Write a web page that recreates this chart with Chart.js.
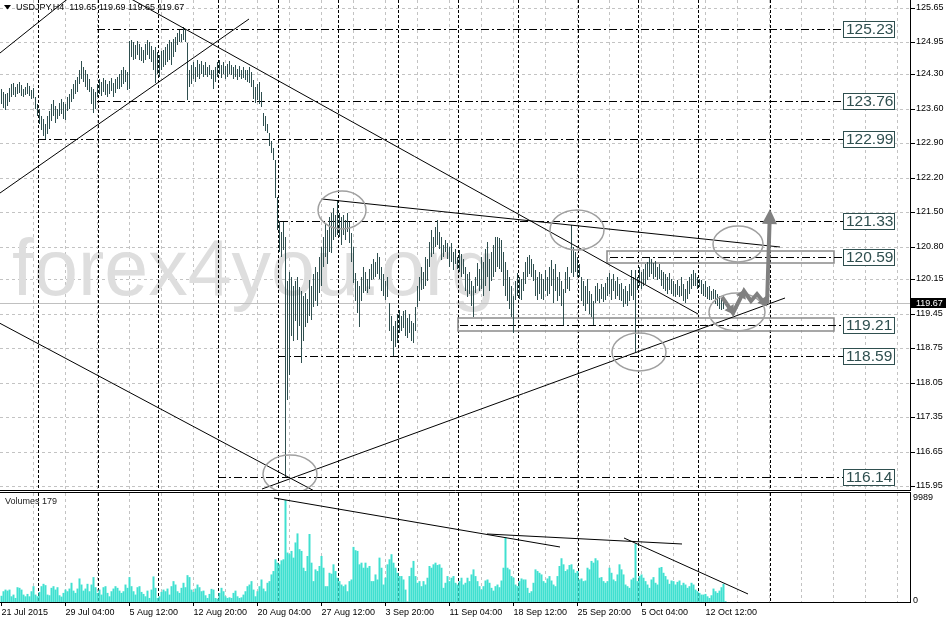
<!DOCTYPE html>
<html>
<head>
<meta charset="utf-8">
<title>USDJPY H4</title>
<script src="https://cdn.jsdelivr.net/npm/chart.js@4.4.1/dist/chart.umd.min.js"></script>
<style>
  html, body { margin:0; padding:0; background:#ffffff; }
  body { width:946px; height:621px; position:relative; overflow:hidden; }
  #priceCanvas { position:absolute; left:0; top:0; }
  #volumeCanvas { position:absolute; left:0; top:492px; }
</style>
</head>
<body>
<canvas id="priceCanvas" width="946" height="492"></canvas>
<canvas id="volumeCanvas" width="946" height="129"></canvas>
<script>
// ---------------- DATA ----------------
const symbol = 'USDJPY';
const timeframe = 'H4';
const quote = [119.65, 119.69, 119.65, 119.67]; // O H L C of last bar
const watermarkText = 'forex4you.org';

const xTickLabels = ['21 Jul 2015','29 Jul 04:00','5 Aug 12:00','12 Aug 20:00','20 Aug 04:00','27 Aug 12:00',
  '3 Sep 20:00','11 Sep 04:00','18 Sep 12:00','25 Sep 20:00','5 Oct 04:00','12 Oct 12:00'];
const priceTickLabels = ['125.65','124.95','124.30','123.60','122.90','122.20','121.50','120.80',
  '120.15','119.45','118.75','118.05','117.35','116.65','115.95'];
const volumeTickLabels = ['0','9989'];

const highs = [
124.00,123.95,123.90,123.92,124.02,124.10,124.12,124.05,124.10,124.14,
124.08,124.00,124.05,124.12,124.06,123.98,124.02,123.85,123.70,123.60,
123.45,123.40,123.30,123.45,123.55,123.70,123.78,123.65,123.60,123.72,
123.80,123.75,123.70,123.84,123.90,124.00,124.10,124.19,124.25,124.40,
124.57,124.45,124.38,124.30,124.20,124.05,124.00,123.95,124.10,124.20,
124.15,124.22,124.18,124.10,124.16,124.23,124.12,124.20,124.25,124.30,
124.38,124.45,124.40,124.35,124.98,125.00,124.95,124.90,124.98,124.92,
124.85,124.80,124.92,125.00,124.95,124.88,124.80,124.86,124.75,124.70,
124.78,124.80,124.85,124.92,125.00,124.95,125.02,125.05,125.15,125.20,
125.12,125.27,125.22,124.94,124.40,124.50,124.55,124.45,124.60,124.52,
124.58,124.50,124.55,124.45,124.50,124.40,124.38,124.45,124.55,124.59,
124.50,124.55,124.48,124.52,124.58,124.50,124.45,124.49,124.42,124.48,
124.40,124.45,124.38,124.40,124.45,124.35,124.19,124.05,124.10,124.15,
123.95,123.52,123.45,123.30,123.11,122.95,122.80,122.57,121.82,121.33,
121.10,121.31,121.00,120.10,120.30,120.20,120.00,120.10,120.19,119.99,
119.90,119.80,119.87,119.75,120.13,120.00,120.25,120.39,120.30,120.60,
120.80,121.00,121.28,121.15,121.40,121.49,121.60,121.45,121.75,121.49,
121.40,121.45,121.35,121.49,121.30,121.08,120.80,120.27,120.10,120.00,
120.20,120.39,120.30,120.15,120.35,120.45,120.55,120.50,120.68,120.60,
120.39,120.25,120.10,120.20,119.66,119.40,119.20,119.30,119.45,119.52,
119.40,119.50,119.52,119.35,119.45,119.30,119.25,119.58,120.00,120.19,
120.40,120.30,120.60,120.55,120.90,121.14,121.00,121.20,121.35,121.10,
121.00,120.85,120.95,120.88,120.80,120.88,120.70,120.75,120.60,120.74,
120.65,120.55,120.39,120.25,120.30,120.10,120.00,120.20,120.47,120.35,
120.60,120.50,120.75,120.90,120.55,120.70,120.85,121.00,121.00,120.98,
120.95,120.70,120.50,120.33,120.20,120.00,119.80,120.10,120.27,120.20,
120.15,120.30,120.50,120.60,120.64,120.55,120.45,120.33,120.20,120.30,
120.25,120.15,120.33,120.20,120.40,120.54,120.35,120.45,120.20,120.30,
120.10,119.95,120.30,120.39,120.20,121.24,120.80,120.70,120.60,120.45,
120.19,120.10,120.00,120.15,119.90,119.85,119.70,120.00,120.07,119.95,
120.05,119.98,120.07,120.20,120.27,120.15,120.25,120.10,120.20,120.05,
120.07,119.95,120.00,119.90,120.05,120.33,120.20,120.33,120.20,120.39,
120.30,120.35,120.45,120.50,120.58,120.55,120.48,120.52,120.40,120.45,
120.33,120.30,120.25,120.20,120.28,120.15,120.10,120.05,120.12,120.00,
120.19,120.05,119.95,120.10,120.20,120.25,120.33,120.28,120.20,120.15,
120.13,120.05,120.10,119.98,120.00,119.90,119.95,119.93,119.85,119.80,
119.75,119.70,119.69];

const lows = [
123.70,123.62,123.58,123.66,123.75,123.85,123.88,123.84,123.90,123.92,
123.86,123.84,123.88,123.90,123.86,123.80,123.82,123.60,123.45,123.30,
123.17,123.05,122.99,123.10,123.20,123.35,123.45,123.32,123.40,123.45,
123.50,123.40,123.38,123.55,123.60,123.75,123.80,123.90,123.95,124.10,
124.20,124.15,124.05,123.98,123.95,123.70,123.52,123.60,123.85,123.90,
123.86,123.95,123.88,123.84,123.90,123.96,123.85,123.92,124.00,124.00,
124.05,124.10,124.15,123.98,124.00,124.65,124.60,124.62,124.70,124.60,
124.58,124.53,124.60,124.70,124.62,124.55,124.40,124.13,124.30,124.25,
124.40,124.45,124.50,124.55,124.60,124.50,124.65,124.75,124.90,124.96,
124.95,125.00,124.95,123.78,124.04,124.10,124.20,124.15,124.25,124.20,
124.30,124.25,124.28,124.25,124.28,124.20,124.00,124.15,124.25,124.30,
124.22,124.30,124.20,124.25,124.30,124.28,124.20,124.25,124.19,124.25,
124.20,124.22,124.19,124.15,124.13,124.05,123.80,123.72,123.78,123.70,
123.64,123.25,123.15,123.11,122.85,122.70,122.56,121.79,121.14,120.70,
120.60,120.74,116.14,117.70,118.20,119.00,118.90,119.30,118.91,119.20,
118.45,118.90,119.18,119.25,119.40,119.32,119.58,119.70,119.60,119.87,
120.00,120.39,120.60,120.45,120.70,120.68,120.94,121.00,121.05,121.00,
120.85,121.05,120.95,121.10,120.88,120.50,120.07,119.70,119.46,119.17,
119.70,119.87,119.90,119.87,119.95,120.13,120.15,120.20,120.25,120.15,
119.90,119.80,119.72,119.78,119.10,118.90,118.59,118.77,118.85,119.05,
119.10,119.15,119.00,118.95,119.05,118.90,118.85,119.10,119.58,119.70,
119.93,119.95,120.00,120.10,120.40,120.60,120.65,120.80,120.85,120.75,
120.54,120.60,120.70,120.55,120.40,120.50,120.33,120.45,120.35,120.30,
120.19,120.25,119.90,119.78,119.85,119.60,119.38,119.87,120.00,119.90,
119.95,119.80,120.00,120.20,119.90,120.10,120.20,120.30,120.40,120.35,
120.30,120.00,119.80,119.70,119.55,119.38,119.05,119.72,119.80,119.75,
119.72,119.90,120.05,120.19,120.25,120.20,120.10,119.80,119.72,119.85,
119.75,119.72,119.90,119.80,119.85,120.00,119.66,119.90,119.70,119.80,
119.60,119.21,119.87,119.95,119.90,120.27,120.19,120.30,120.20,120.19,
119.70,119.60,119.50,119.65,119.45,119.38,119.21,119.66,119.70,119.66,
119.75,119.68,119.72,119.80,119.85,119.72,119.90,119.75,119.80,119.72,
119.70,119.58,119.65,119.60,119.70,119.80,119.72,118.67,119.93,120.00,
119.95,120.00,120.05,120.13,120.20,120.25,120.15,120.20,120.13,120.15,
120.00,119.95,119.90,119.85,119.92,119.85,119.80,119.78,119.82,119.78,
119.80,119.70,119.66,119.75,119.85,119.95,120.00,120.00,119.95,119.99,
119.85,119.80,119.78,119.75,119.72,119.72,119.75,119.65,119.60,119.55,
119.52,119.55,119.65];

const volumes = [
700,1140,1300,1200,1300,650,815,490,1530,1470,
1300,815,650,880,650,1140,1630,815,650,1075,
1630,1860,1730,815,750,1470,1630,1300,1530,750,
620,980,1300,1140,1400,1960,1200,980,1400,2380,
1790,1200,1400,1860,1140,1790,2510,1530,980,1300,
815,1530,1630,980,650,1140,1400,1630,1470,1200,
980,1140,1790,1470,2510,1630,1140,815,1530,1630,
1075,880,650,1200,490,1300,2575,1470,490,650,
1075,1300,1140,1400,815,1630,2120,1790,1140,980,
1470,1960,1530,2700,2510,1300,1075,1400,1790,1530,
1140,1200,750,490,880,1370,1300,490,420,980,
1470,1140,650,490,550,490,980,1200,650,490,
550,815,1140,1630,1790,2120,1300,650,1140,1630,
2280,1400,1140,1960,2120,2770,3100,4240,3910,3750,
4140,4240,9989,4890,4730,5050,4400,5870,6750,5220,
5050,3420,3100,4560,6690,3910,2120,3260,3100,3590,
4560,3420,1630,1630,2930,2840,3750,3100,2450,2120,
1790,1630,1790,1140,2120,2280,5440,5120,5050,3750,
3910,3420,3910,3420,3590,2120,2120,2770,2280,4400,
3420,1790,2450,3750,4240,4730,3910,3420,2930,2610,
2610,2280,1300,160,2610,3420,4080,2610,1960,2120,
1630,2120,1790,2450,3590,3420,3750,3910,3680,3750,
3420,1470,1960,2610,2120,2450,2610,1960,1790,2120,
2450,1790,1960,2450,2120,2770,3260,2610,2120,1630,
1300,1630,2180,2280,1960,1470,1200,1630,1790,1530,
2180,3420,6360,3420,3260,2610,2450,1790,1630,2120,
2380,2280,2280,1470,980,1140,1960,3260,3100,2930,
2770,2120,1960,2380,2610,2180,1790,1630,2610,3590,
4340,3750,3100,3260,3680,3750,3260,2930,3100,2280,
2380,2120,2180,3420,3260,4080,3910,4340,4140,2450,
2510,2120,1960,2120,3420,2930,2280,2120,2770,3750,
3260,2770,1790,1630,1470,2280,2450,5770,2120,2610,
2770,2450,2120,1790,1470,2280,2510,1960,1790,3420,
3490,2930,2610,2280,1860,2180,2120,1790,2050,2180,
1730,1960,1790,1470,1630,1960,1790,1300,1140,980,
815,815,880,650,490,750,1400,1140,980,1200,
1530,1860,179];

// drawn objects, in data units (bar index, price / volume)
const levels     = [125.23, 123.76, 122.99, 121.33, 120.59, 119.21, 118.59, 116.14];
const levelFrom  = [47.75, 47.75, 18.25, 139.25, 304.25, 229.25, 138.25, 108.25];
const levelLabelAt = 420.75;
const weekSeparators = [18.25,48.25,78.25,108.25,138.25,168.25,198.25,228.25,258.25,288.25,318.25,348.25,384.25];
const trendLines = [
  [-5.75, 124.574, 44.25, 126.198],
  [-5.75, 121.754, 123.75, 125.426],
  [56.75, 126.015, 348.25, 119.44],
  [-5.75, 119.366, 159.25, 115.784],
  [130.25, 115.889, 391.75, 119.765],
  [160.25, 121.774, 389.25, 120.80]
];
const volumeLines = [
  [136.25, 10183, 279.25, 5431],
  [242.75, 6692, 340.25, 5722],
  [311.25, 6304, 373.25, 873]
];
const zones = [
  [302.75, 416.25, 120.72, 120.475],
  [228.25, 416.25, 119.36, 119.095]
];
const ellipses = [
  [170.25, 121.551, 12, 0.375],
  [287.75, 121.145, 13.5, 0.406],
  [368.25, 120.861, 12.5, 0.365],
  [367.75, 119.481, 14, 0.386],
  [318.75, 118.669, 13.5, 0.386],
  [144.25, 116.194, 13.5, 0.386]
];
const zigzag = [[360.25,119.785],[365.75,119.461],[371.25,119.907],[374.75,119.704],[377.75,119.846],[382.25,119.623]];
const upArrow = [[382.75,119.643],[384.25,121.571]];

// ---------------- CHART SETUP ----------------
const FONT = "'Liberation Sans', Arial, sans-serif";
Chart.defaults.font.family = FONT;
Chart.defaults.font.size = 9;
Chart.defaults.color = '#000';

const X_MIN = -0.75, X_MAX = 454.75;
const xGridValues = [];
for (let v = 0; v <= 448; v += 16) xGridValues.push(v);
const xLabelFor = v => (v % 32 === 0 && v / 32 < xTickLabels.length) ? xTickLabels[v / 32] : '';

function crisp(v) { return Math.floor(v) + 0.5; }
function hline(ctx, x1, x2, y) { ctx.beginPath(); ctx.moveTo(x1, y); ctx.lineTo(x2, y); ctx.stroke(); }
function vline(ctx, x, y1, y2) { ctx.beginPath(); ctx.moveTo(x, y1); ctx.lineTo(x, y2); ctx.stroke(); }
function arrowHead(ctx, fx, fy, tx, ty, len, half) {
  const a = Math.atan2(ty - fy, tx - fx);
  const bx = tx - len * Math.cos(a), by = ty - len * Math.sin(a);
  ctx.beginPath();
  ctx.moveTo(tx, ty);
  ctx.lineTo(bx + half * Math.sin(a), by - half * Math.cos(a));
  ctx.lineTo(bx - half * Math.sin(a), by + half * Math.cos(a));
  ctx.closePath(); ctx.fill();
}
function clipArea(ctx, a) { ctx.beginPath(); ctx.rect(a.left, a.top, a.right - a.left, a.bottom - a.top); ctx.clip(); }

const gridColor = ctx => (ctx.tick && ctx.tick.value === 0) ? 'rgba(0,0,0,0)' : '#c3c3c3';

const priceDecor = {
  id: 'priceDecor',
  beforeDatasetsDraw(chart) {
    const { ctx, chartArea: a, scales: { x, y } } = chart;
    ctx.save();
    clipArea(ctx, a);
    ctx.fillStyle = '#dedede';
    ctx.font = '79px ' + FONT;
    ctx.textBaseline = 'alphabetic'; ctx.textAlign = 'left';
    ctx.fillText(watermarkText, 12, 295);
    ctx.lineWidth = 1; ctx.setLineDash([]);
    ctx.strokeStyle = '#c0c0c0';
    hline(ctx, a.left, a.right, crisp(y.getPixelForValue(quote[3])));
    ctx.strokeStyle = '#000'; ctx.setLineDash([3, 2]);
    weekSeparators.forEach(w => vline(ctx, crisp(x.getPixelForValue(w)), a.top, a.bottom));
    ctx.setLineDash([]); ctx.strokeStyle = '#8a8a8a'; ctx.lineWidth = 1.5;
    zones.forEach(z => {
      const x1 = Math.round(x.getPixelForValue(z[0])), x2 = Math.round(x.getPixelForValue(z[1]));
      const y1 = Math.round(y.getPixelForValue(z[2])), y2 = Math.round(y.getPixelForValue(z[3]));
      ctx.strokeRect(x1, y1, x2 - x1, y2 - y1);
    });
    ctx.lineWidth = 1; ctx.strokeStyle = '#000'; ctx.setLineDash([8, 3, 2, 3]);
    levels.forEach((lv, i) => hline(ctx, x.getPixelForValue(levelFrom[i]), x.getPixelForValue(levelLabelAt), crisp(y.getPixelForValue(lv))));
    ctx.restore();
  },
  afterDatasetsDraw(chart) {
    const { ctx, chartArea: a, scales: { x, y } } = chart;
    ctx.save();
    clipArea(ctx, a);
    ctx.setLineDash([]);
    // ellipses
    ctx.strokeStyle = '#a0a0a0'; ctx.lineWidth = 1.5;
    ellipses.forEach(e => {
      const cx = x.getPixelForValue(e[0]), cy = y.getPixelForValue(e[1]);
      const rx = Math.abs(x.getPixelForValue(e[0] + e[2]) - cx), ry = Math.abs(y.getPixelForValue(e[1] + e[3]) - cy);
      ctx.beginPath(); ctx.ellipse(cx, cy, rx, ry, 0, 0, Math.PI * 2); ctx.stroke();
    });
    // zigzag arrows
    const zp = zigzag.map(p => [x.getPixelForValue(p[0]), y.getPixelForValue(p[1])]);
    ctx.strokeStyle = '#808080'; ctx.fillStyle = '#808080'; ctx.lineWidth = 4; ctx.lineJoin = 'miter';
    ctx.beginPath(); zp.forEach((p, i) => i ? ctx.lineTo(p[0], p[1]) : ctx.moveTo(p[0], p[1])); ctx.stroke();
    [1, 2, 5].forEach(i => {
      const an = Math.atan2(zp[i][1] - zp[i - 1][1], zp[i][0] - zp[i - 1][0]);
      arrowHead(ctx, zp[i - 1][0], zp[i - 1][1], zp[i][0] + 2 * Math.cos(an), zp[i][1] + 2 * Math.sin(an), 9, 5.5);
    });
    // vertical target arrow
    const u0 = [x.getPixelForValue(upArrow[0][0]), y.getPixelForValue(upArrow[0][1])];
    const u1 = [x.getPixelForValue(upArrow[1][0]), y.getPixelForValue(upArrow[1][1])];
    const ang = Math.atan2(u1[1] - u0[1], u1[0] - u0[0]);
    ctx.beginPath(); ctx.moveTo(u0[0], u0[1]); ctx.lineTo(u1[0] - 13 * Math.cos(ang), u1[1] - 13 * Math.sin(ang)); ctx.stroke();
    arrowHead(ctx, u0[0], u0[1], u1[0], u1[1], 15, 7.5);
    ctx.restore();

    // level label boxes
    ctx.save();
    ctx.font = '15.5px ' + FONT; ctx.textBaseline = 'middle'; ctx.textAlign = 'left';
    levels.forEach(lv => {
      const bx = Math.round(x.getPixelForValue(levelLabelAt)) + 0.5;
      const cy = y.getPixelForValue(lv);
      const by = Math.round(cy - 8) + 0.5;
      ctx.fillStyle = '#ffffff'; ctx.fillRect(bx, by, 51, 16);
      ctx.strokeStyle = '#2f4f4f'; ctx.lineWidth = 1; ctx.strokeRect(bx, by, 51, 16);
      ctx.fillStyle = '#2f4f4f'; ctx.fillText(lv.toFixed(2), bx + 2.5, by + 8.5);
    });
    // title
    ctx.fillStyle = '#000';
    ctx.beginPath(); ctx.moveTo(4, 5); ctx.lineTo(11, 5); ctx.lineTo(7.5, 9.5); ctx.closePath(); ctx.fill();
    ctx.font = '9px ' + FONT; ctx.textBaseline = 'middle';
    ctx.fillText(symbol + ',' + timeframe + '  ' + quote.map(v => v.toFixed(2)).join(' '), 16, 8);
    ctx.restore();
  },
  afterDraw(chart) {
    const { ctx, chartArea: a, scales: { y } } = chart;
    ctx.save();
    ctx.strokeStyle = '#000'; ctx.lineWidth = 1; ctx.setLineDash([]);
    vline(ctx, a.right - 0.5, 0, a.bottom + 1);
    hline(ctx, 0, a.right, a.bottom + 0.5);
    // current price tag
    const cy = y.getPixelForValue(quote[3]);
    ctx.fillStyle = '#000'; ctx.fillRect(a.right, Math.round(cy - 5), chart.width - a.right, 10);
    ctx.fillStyle = '#fff'; ctx.font = '9px ' + FONT; ctx.textBaseline = 'middle'; ctx.textAlign = 'left';
    ctx.fillText(quote[3].toFixed(2), a.right + 5, Math.round(cy - 5) + 5.5);
    ctx.restore();
  }
};

const volumeDecor = {
  id: 'volumeDecor',
  beforeDatasetsDraw(chart) {
    const { ctx, chartArea: a, scales: { x } } = chart;
    ctx.save();
    clipArea(ctx, a);
    ctx.strokeStyle = '#000'; ctx.lineWidth = 1; ctx.setLineDash([3, 2]);
    weekSeparators.forEach(w => vline(ctx, crisp(x.getPixelForValue(w)), a.top, a.bottom));
    ctx.restore();
  },
  afterDraw(chart) {
    const { ctx, chartArea: a } = chart;
    ctx.save();
    ctx.strokeStyle = '#000'; ctx.lineWidth = 1; ctx.setLineDash([]);
    hline(ctx, 0, a.right, 0.5);
    vline(ctx, a.right - 0.5, 0, a.bottom);
    hline(ctx, 0, a.right, a.bottom - 0.5);
    ctx.fillStyle = '#222'; ctx.font = '9px ' + FONT; ctx.textBaseline = 'middle'; ctx.textAlign = 'left';
    ctx.fillText('Volumes ' + volumes[volumes.length - 1], 5, 10);
    ctx.restore();
  }
};

const commonX = (showLabels) => ({
  type: 'linear', min: X_MIN, max: X_MAX, offset: false, alignToPixels: false,
  grid: {
    offset: false, color: gridColor, lineWidth: 1,
    drawTicks: showLabels, tickLength: 3, tickBorderDash: [],
    tickColor: ctx => (ctx.tick && xLabelFor(ctx.tick.value) !== '') ? '#000' : 'rgba(0,0,0,0)'
  },
  border: { display: false, dash: [3, 3] },
  ticks: {
    display: showLabels, autoSkip: false, maxRotation: 0, minRotation: 0, align: 'start',
    padding: 1, color: '#000', font: { size: 9 }, callback: v => xLabelFor(v)
  },
  afterBuildTicks: s => { s.ticks = xGridValues.map(v => ({ value: v })); },
  afterFit: s => { s.height = showLabels ? 18 : 0; s.paddingLeft = 0; s.paddingRight = 0; }
});

const priceChart = new Chart(document.getElementById('priceCanvas'), {
  type: 'bar',
  data: {
    datasets: [
      {
        type: 'bar', order: 2,
        data: lows.map((lo, i) => ({ x: i, y: [lo, highs[i]] })),
        backgroundColor: '#2f4f4f', borderWidth: 0, barThickness: 1, borderSkipped: false, inflateAmount: 0
      },
      ...trendLines.map(t => ({
        type: 'line', order: 1,
        data: [{ x: t[0], y: t[1] }, { x: t[2], y: t[3] }],
        borderColor: '#000', borderWidth: 1, pointRadius: 0, fill: false, tension: 0
      }))
    ]
  },
  options: {
    responsive: false, animation: false, devicePixelRatio: 1, events: [],
    layout: { padding: { left: 0, right: 0, top: 0, bottom: 2 } },
    plugins: { legend: { display: false }, tooltip: { enabled: false } },
    scales: {
      x: commonX(false),
      y: {
        type: 'linear', position: 'right', min: 115.87, max: 125.81, beginAtZero: false, alignToPixels: true,
        grid: { color: '#c3c3c3', lineWidth: 1, drawTicks: true, tickLength: 4, tickColor: '#000', tickBorderDash: [] },
        border: { display: false, dash: [3, 3] },
        ticks: { color: '#000', padding: 1, font: { size: 9 }, autoSkip: false, callback: v => v.toFixed(2) },
        afterBuildTicks: s => { s.ticks = priceTickLabels.map(t => ({ value: parseFloat(t) })); },
        afterFit: s => { s.width = 35; s.paddingTop = 0; s.paddingBottom = 0; }
      }
    }
  },
  plugins: [priceDecor]
});

const volumeChart = new Chart(document.getElementById('volumeCanvas'), {
  type: 'bar',
  data: {
    datasets: [
      {
        type: 'bar', order: 2,
        data: volumes.map((v, i) => ({ x: i, y: v })),
        backgroundColor: '#40e0d0', borderWidth: 0, barThickness: 2, inflateAmount: 0
      },
      ...volumeLines.map(t => ({
        type: 'line', order: 1,
        data: [{ x: t[0], y: t[1] }, { x: t[2], y: t[3] }],
        borderColor: '#000', borderWidth: 1, pointRadius: 0, fill: false, tension: 0
      }))
    ]
  },
  options: {
    responsive: false, animation: false, devicePixelRatio: 1, events: [],
    layout: { padding: { left: 0, right: 0, top: 1, bottom: 0 } },
    plugins: { legend: { display: false }, tooltip: { enabled: false } },
    scales: {
      x: commonX(true),
      y: {
        type: 'linear', position: 'right', min: 0, max: 10668, beginAtZero: true,
        grid: { display: false, drawTicks: false },
        border: { display: false },
        ticks: { color: '#000', padding: 2, font: { size: 9 }, labelOffset: -2.5, autoSkip: false, callback: v => String(v) },
        afterBuildTicks: s => { s.ticks = volumeTickLabels.map(t => ({ value: parseFloat(t) })); },
        afterFit: s => { s.width = 35; s.paddingTop = 0; s.paddingBottom = 0; }
      }
    }
  },
  plugins: [volumeDecor]
});
</script>
</body>
</html>
